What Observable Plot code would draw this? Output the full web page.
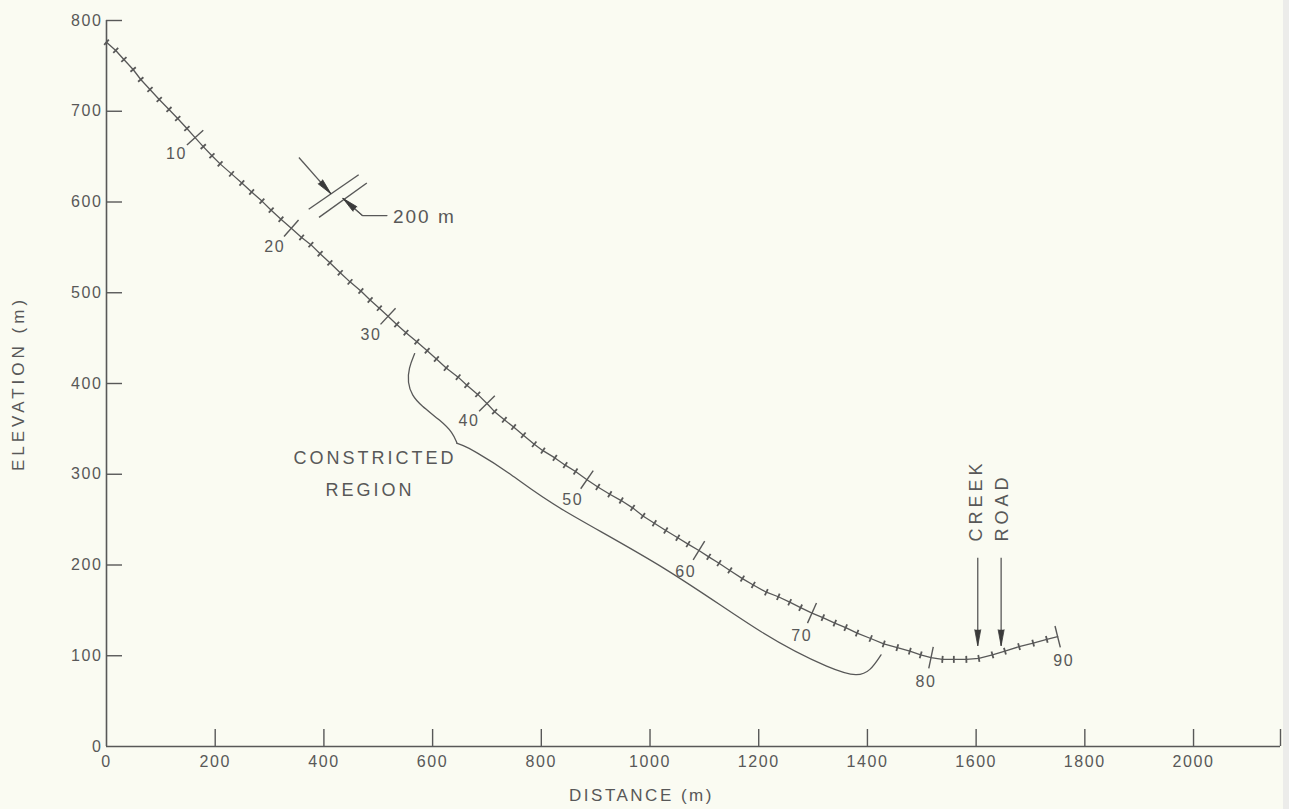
<!DOCTYPE html>
<html>
<head>
<meta charset="utf-8">
<script src="https://cdn.jsdelivr.net/npm/d3@7"></script>
<script src="https://cdn.jsdelivr.net/npm/@observablehq/plot@0.6"></script>
<style>
html, body { margin: 0; padding: 0; background: #fafbf2; }
#chart { position: relative; width: 1289px; height: 809px; overflow: hidden; }
#edge { position: absolute; right: 0; top: 0; width: 6px; height: 809px; background: #ececea; }
</style>
</head>
<body>
<div id="chart"><div id="edge"></div></div>
<script>
// ---- Data: profile stations (distance m, elevation m), station 0..90 ----
const stationDist = [
  0, 17, 32, 49, 63, 80, 97, 115, 131, 148, 163,
  178, 194, 209, 230, 249, 267, 286, 303, 321, 340,
  359, 376, 393, 411, 430, 448, 468, 485, 502, 518,
  534, 551, 571, 590, 607, 625, 647, 663, 683, 700,
  714, 732, 749, 767, 787, 803, 825, 844, 863, 884,
  904, 926, 947, 968, 987, 1008, 1029, 1051, 1070, 1090,
  1108, 1127, 1147, 1170, 1190, 1214, 1236, 1257, 1277, 1298,
  1318, 1340, 1360, 1381, 1406, 1430, 1455, 1478, 1498, 1517,
  1538, 1559, 1582, 1605, 1630, 1653, 1679, 1705, 1730, 1750
];
const stationElev = [
  776, 767, 757, 746, 735, 724, 713, 702, 692, 681, 671,
  661, 651, 642, 631, 621, 611, 601, 591, 581, 571,
  561, 553, 543, 533, 522, 512, 502, 492, 483, 474,
  465, 456, 446, 436, 427, 417, 407, 398, 388, 378,
  369, 360, 352, 343, 333, 326, 318, 310, 303, 294,
  286, 278, 271, 263, 254, 246, 238, 230, 223, 216,
  209, 202, 194, 185, 178, 170, 165, 159, 153, 147,
  142, 136, 131, 125, 119, 113, 109, 105, 101, 98,
  96, 96, 96, 97, 101, 105, 110, 114, 118, 121
];
const majorStations = [10, 20, 30, 40, 50, 60, 70, 80, 90];

// ---- Axes ----
const xTicks = [0, 200, 400, 600, 800, 1000, 1200, 1400, 1600, 1800, 2000];
const xTickLabels = ["0", "200", "400", "600", "800", "1000", "1200", "1400", "1600", "1800", "2000"];
const yTicks = [0, 100, 200, 300, 400, 500, 600, 700, 800];
const yTickLabels = ["0", "100", "200", "300", "400", "500", "600", "700", "800"];
const xMax = 2160;
const xTitle = "DISTANCE (m)";
const yTitle = "ELEVATION (m)";

// ---- Annotations ----
const bracketX = [567, 556, 554, 562, 578, 615, 637, 645,
                  645, 655, 673, 744, 817, 1034, 1215, 1338, 1382, 1405, 1425];
const bracketY = [433, 417, 401, 387, 376, 359, 346, 334,
                  334, 332, 327, 301, 266, 197, 119, 84, 77, 83, 101];
const bracketPart = ["a","a","a","a","a","a","a","a",
                     "b","b","b","b","b","b","b","b","b","b","b"];
const regionLines = ["CONSTRICTED", "REGION"];
const regionX = [494, 485];
const regionY = [318, 282];

const scaleBarX1 = [372, 391];
const scaleBarY1 = [592, 583];
const scaleBarX2 = [464, 479];
const scaleBarY2 = [630, 621];
const leaderX = [516, 471, 435];
const leaderY = [585, 585, 604];
const scaleLabel = "200 m";
const scaleLabelX = 527, scaleLabelY = 584;

const arrowTailX = [354, 471, 1603, 1646];
const arrowTailY = [649, 585, 208, 208];
const arrowTipX  = [413, 435, 1603, 1646];
const arrowTipY  = [609, 604, 111, 111];

const featureLabels = ["CREEK", "ROAD"];
const featureX = [1600, 1648];
const featureY = [226, 226];

// ---- Layout ----
const W = 1289, H = 809, mL = 106, mR = 9, mT = 20, mB = 63;
const kx = (W - mL - mR) / xMax;
const ky = (H - mT - mB) / 800;
const ink = "#585858";

const st = stationDist.map((d, i) => ({i, x: d, y: stationElev[i]}));
function normal(i) {
  const a = st[Math.max(0, i - 1)], b = st[Math.min(st.length - 1, i + 1)];
  const tx = (b.x - a.x) * kx, ty = -(b.y - a.y) * ky;
  const L = Math.hypot(tx, ty);
  return [-ty / L, tx / L];
}
function off(p, n, len) { return {x: p.x + n[0] * len / kx, y: p.y - n[1] * len / ky}; }

const ticks = st.map(p => {
  const n = normal(p.i);
  const len = majorStations.includes(p.i) ? 11 : 3.5;
  const a = off(p, n, len), b = off(p, n, -len);
  return {major: len > 5, x1: a.x, y1: a.y, x2: b.x, y2: b.y};
});
const labels = majorStations.map(i => {
  const p = off(st[i], normal(i), 25);
  return {x: p.x, y: p.y, text: String(i)};
});

const arrows = arrowTailX.map((x0, i) => {
  const x1 = arrowTipX[i], y0 = arrowTailY[i], y1 = arrowTipY[i];
  const dx = (x1 - x0) * kx, dy = -(y1 - y0) * ky;
  return {x0, y0, x1, y1, rot: Math.atan2(dx, -dy) * 180 / Math.PI};
});

const bracket = bracketX.map((x, i) => ({x, y: bracketY[i], z: bracketPart[i]}));
const leader = leaderX.map((x, i) => ({x, y: leaderY[i]}));

const chart = Plot.plot({
  width: W, height: H,
  marginLeft: mL, marginRight: mR, marginTop: mT, marginBottom: mB,
  x: {domain: [0, xMax], axis: null},
  y: {domain: [0, 800], axis: null},
  style: {background: "transparent", fontFamily: "'Liberation Sans', sans-serif", color: ink, letterSpacing: "1.6px"},
  marks: [
    // axes
    Plot.ruleY([0], {x1: 0, x2: xMax, stroke: ink, strokeWidth: 1.6}),
    Plot.ruleX([0], {y1: 0, y2: 800, stroke: ink, strokeWidth: 1.6}),
    Plot.ruleX(xTicks.slice(1).concat([xMax]), {y1: 0, y2: 17 / ky, stroke: ink, strokeWidth: 1.4}),
    Plot.ruleY(yTicks.slice(1), {x1: 0, x2: 16 / kx, stroke: ink, strokeWidth: 1.4}),
    Plot.text(xTicks, {x: d => d, y: 0, dy: 15, text: (d, i) => xTickLabels[i], fontSize: 16, fill: ink}),
    Plot.text(yTicks, {x: 0, y: d => d, dx: -4, text: (d, i) => yTickLabels[i], textAnchor: "end", fontSize: 16, fill: ink}),
    Plot.text([yTitle], {frameAnchor: "left", textAnchor: "middle", dx: -88, rotate: -90, fontSize: 17, fill: ink}),
    Plot.text([xTitle], {frameAnchor: "bottom", textAnchor: "middle", dx: -52, dy: 54, fontSize: 17, fill: ink}),
    // profile
    Plot.line(st, {x: "x", y: "y", stroke: ink, strokeWidth: 1.3}),
    Plot.link(ticks, {x1: "x1", y1: "y1", x2: "x2", y2: "y2", stroke: ink, strokeWidth: d => d.major ? 1.4 : 1.8}),
    Plot.text(labels, {x: "x", y: "y", text: "text", fontSize: 16, fill: ink}),
    // constricted region bracket
    Plot.line(bracket, {x: "x", y: "y", z: "z", curve: "basis", stroke: ink, strokeWidth: 1.3}),
    Plot.text(regionLines, {x: (d, i) => regionX[i], y: (d, i) => regionY[i], text: d => d, fontSize: 18, fill: ink}),
    // 200 m scale
    Plot.link(scaleBarX1, {x1: d => d, y1: (d, i) => scaleBarY1[i], x2: (d, i) => scaleBarX2[i], y2: (d, i) => scaleBarY2[i], stroke: ink, strokeWidth: 1.4}),
    Plot.line(leader, {x: "x", y: "y", stroke: ink, strokeWidth: 1.3}),
    Plot.text([scaleLabel], {x: scaleLabelX, y: scaleLabelY, textAnchor: "start", fontSize: 19, fill: ink}),
    // arrows
    Plot.link(arrows, {x1: "x0", y1: "y0", x2: "x1", y2: "y1", stroke: ink, strokeWidth: 1.3}),
    Plot.vector(arrows, {x: "x1", y: "y1", rotate: "rot", length: 16, r: 3, shape: "spike", anchor: "end", fill: "#3a3a3a", stroke: "#3a3a3a", strokeWidth: 0.8}),
    // creek / road labels
    Plot.text(featureLabels, {x: (d, i) => featureX[i], y: (d, i) => featureY[i], text: d => d, rotate: -90, textAnchor: "start", fontSize: 18, fill: ink})
  ]
});
document.getElementById("chart").prepend(chart);

// letter spacing of the hand-lettered annotations
const spacing = new Map([[yTitle, "4px"], [xTitle, "2.5px"], ["CREEK", "4px"], ["ROAD", "4px"],
  ["CONSTRICTED", "3px"], ["REGION", "3px"], [scaleLabel, "2px"]]);
d3.select(chart).selectAll("text").each(function () {
  const s = spacing.get(this.textContent);
  if (s) this.style.letterSpacing = s;
});
</script>
</body>
</html>
